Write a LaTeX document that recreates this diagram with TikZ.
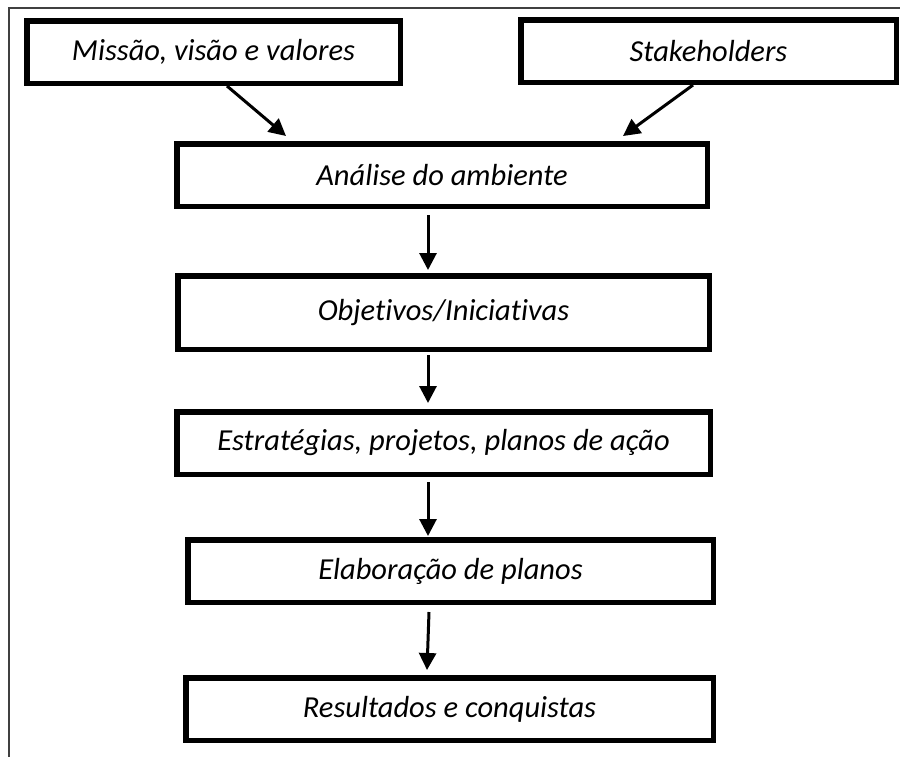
\documentclass[tikz,border=0pt]{standalone}
\usepackage{fontspec}
\setmainfont{Carlito}[Ligatures=NoCommon]
\usetikzlibrary{arrows.meta,calc}
\begin{document}
\begin{tikzpicture}[x=1pt,y=-1pt,
  box/.style={draw=black,line width=5.5pt,fill=white,inner sep=0pt,
    font=\fontsize{30.5}{36}\selectfont\itshape,text=black},
  arr/.style={line width=3pt,-{Triangle[width=17pt,length=17pt]}},
  frame/.style={draw=black!75,line width=1.5pt}]
\useasboundingbox (0,0) rectangle (900,756);
\fill[white] (0,0) rectangle (900,756);
\draw[frame] (9,757) -- (9,8) -- (901,8);
% boxes: centre = mid of outer edges, size = outer - line width
\node[box,minimum width=373.5pt,minimum height=62.5pt] (b1) at (213.5,52) {Missão, visão e valores};
\node[box,minimum width=375.5pt,minimum height=62.5pt] (b2) at (708.5,51) {Stakeholders};
\node[box,minimum width=530.5pt,minimum height=62.5pt] (b3) at (442,175) {Análise do ambiente};
\node[box,minimum width=531.5pt,minimum height=73.5pt] (b4) at (443.5,312.5) {Objetivos/Iniciativas};
\node[box,minimum width=533.5pt,minimum height=62.5pt] (b5) at (443.5,443) {Estratégias, projetos, planos de ação};
\node[box,minimum width=525.5pt,minimum height=62.5pt] (b6) at (450.5,571) {Elaboração de planos};
\node[box,minimum width=527.5pt,minimum height=62.5pt] (b7) at (449.5,709) {Resultados e conquistas};
% connectors
\draw[arr] ([xshift=203pt]b1.south west) -- ([xshift=112pt,yshift=5pt]b3.north west);
\draw[arr] ([xshift=175pt]b2.south west) -- ([xshift=-87pt,yshift=5pt]b3.north east);
\draw[arr] ([xshift=254pt,yshift=-6pt]b3.south west) -- ([xshift=253pt,yshift=3pt]b4.north west);
\draw[arr] ([xshift=253pt,yshift=-3pt]b4.south west) -- ([xshift=254pt,yshift=6pt]b5.north west);
\draw[arr] ([xshift=254pt,yshift=-5pt]b5.south west) -- ([xshift=243pt,yshift=1pt]b6.north west);
\draw[arr] ([xshift=244pt,yshift=-7pt]b6.south west) -- ([xshift=244pt,yshift=5pt]b7.north west);
\end{tikzpicture}
\end{document}
